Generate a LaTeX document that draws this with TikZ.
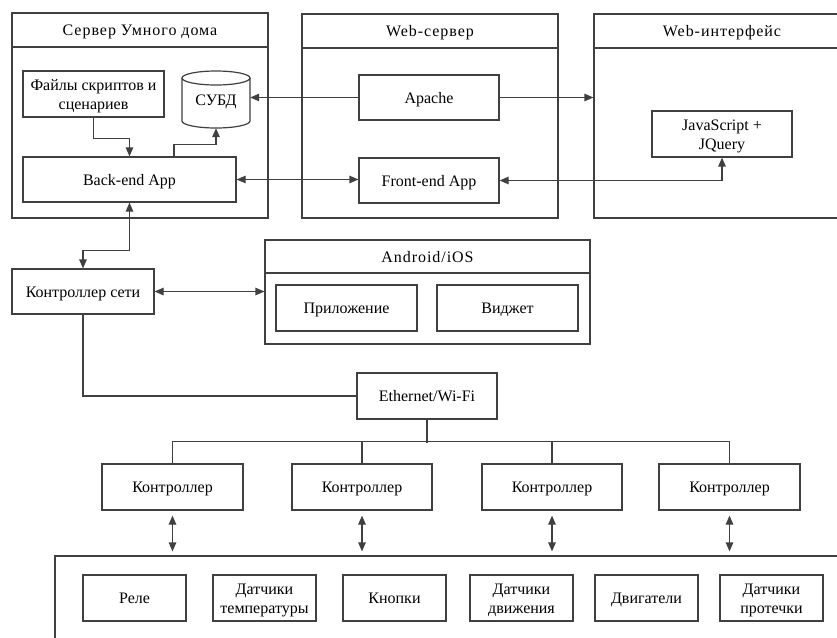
\documentclass[tikz,border=0pt]{standalone}
\usepackage{fontspec}
\setmainfont{Liberation Serif}
\newfontfamily\headfont[LetterSpace=6]{Liberation Serif}
\usetikzlibrary{arrows.meta}
\definecolor{ln}{HTML}{404040}
\tikzset{
  lbl/.style={font=\fontsize{16}{19}\selectfont, inner sep=0pt, align=center},
  one/.style={text height=11pt, text depth=0pt},
  head/.style={lbl, one, font=\fontsize{16}{19}\selectfont\headfont},
  two/.style={lbl, yshift=-2pt},
  box/.style={lbl, one, draw=ln, line width=1.2pt, rectangle},
  frame/.style={draw=ln, line width=1.2pt, rectangle, inner sep=0pt},
  link/.style={draw=ln, line width=1.2pt},
  tip/.tip={Triangle[length=9pt,width=7.5pt]},
  arr/.style={link, -tip},
  arrs/.style={link, tip-tip},
  blk/.style={box, minimum width=140pt, minimum height=46pt},
  dev/.style={box, minimum width=103pt, minimum height=46pt},
}
\begin{document}
\begin{tikzpicture}[x=1pt,y=-1pt]
\useasboundingbox (0,0) rectangle (837,637);
\clip (0,0) rectangle (837,637);

% --- containers with title rows
\node[frame, minimum width=256pt, minimum height=205pt] (srv) at (140,115.5) {};
\draw[link] (12,47) -- (268,47);
\node[head] (srvt) at (140,30) {Сервер Умного дома};

\node[frame, minimum width=256pt, minimum height=204pt] (web) at (430,116) {};
\draw[link] (302,48) -- (558,48);
\node[head] (webt) at (430,31) {Web-сервер};

\node[frame, minimum width=256pt, minimum height=204pt] (wif) at (722,116) {};
\draw[link] (594,48) -- (850,48);
\node[head] (wift) at (722,31) {Web-интерфейс};

\node[frame, minimum width=325pt, minimum height=104pt] (android) at (427.5,292) {};
\draw[link] (265,273) -- (590,273);
\node[head] (andt) at (427.5,257) {Android/iOS};

\node[frame, minimum width=845pt, minimum height=144pt] (devs) at (477.5,628) {};

% --- server internals
\node[box, minimum width=141pt, minimum height=46pt,
      label={[two]center:{Файлы скриптов и\\сценариев}}] (files) at (93.5,94) {};
\node[inner sep=0pt, minimum width=68pt, minimum height=57pt] (dbms) at (216,99.5) {};
\draw[link, fill=white] (182,78) -- (182,121) arc[start angle=180, end angle=360, x radius=34pt, y radius=7pt] -- (250,78);
\draw[link] (216,78) ellipse [x radius=34pt, y radius=7pt];
\node[lbl, one] (dbmst) at (216,100) {СУБД};
\node[box, minimum width=213pt, minimum height=45pt] (back) at (129.5,179.5) {Back-end App};

% --- web server and interface
\node[blk, minimum height=45pt] (apache) at (429,97.5) {Apache};
\node[blk, minimum height=45pt] (front) at (429,180.5) {Front-end App};
\node[blk, label={[two]center:{JavaScript +\\JQuery}}] (js) at (722,134) {};

% --- network side
\node[box, minimum width=142pt, minimum height=45pt] (netc) at (83,291.5) {Контроллер сети};
\node[box, minimum width=141pt, minimum height=46pt] (app) at (346.5,308) {Приложение};
\node[box, minimum width=141pt, minimum height=46pt] (widget) at (507.5,308) {Виджет};
\node[blk] (eth) at (427,396) {Ethernet/Wi-Fi};

\node[blk, minimum width=141pt] (c1) at (172.5,487) {Контроллер};
\node[blk] (c2) at (362,487) {Контроллер};
\node[blk] (c3) at (552,487) {Контроллер};
\node[blk, minimum width=141pt] (c4) at (729.5,487) {Контроллер};

\node[dev] (d1) at (134.5,598) {Реле};
\node[dev, label={[two]center:{Датчики\\температуры}}] (d2) at (264.5,598) {};
\node[dev] (d3) at (394.5,598) {Кнопки};
\node[dev, label={[two]center:{Датчики\\движения}}] (d4) at (521.5,598) {};
\node[dev] (d5) at (646.5,598) {Двигатели};
\node[dev, label={[two]center:{Датчики\\протечки}}] (d6) at (771.5,598) {};

% --- connectors
\draw[arr] (files.south) -- ++(0,21) -| (back.north);
\draw[arr] ([xshift=44.5pt]back.north) -- ++(0,-12) -| (dbms.south);
\draw[arr] (apache.west) -- (apache.west -| dbms.east);
\draw[arr] (apache.east) -- (apache.east -| wif.west);
\draw[arrs] (back.east) -- (back.east -| front.west);
\draw[arrs] (front.east) -| (js.south);
\draw[arrs] (back.south) -- ++(0,48) -| (netc.north);
\draw[arrs] (netc.east) -- (netc.east -| android.west);
\draw[link] (netc.south) |- (eth.west);
\draw[link] (eth.south) -- ++(0,23);
\draw[link] (c1.north) -- ++(0,-22) -| (c4.north);
\draw[link] (c2.north) -- ++(0,-22);
\draw[link] (c3.north) -- ++(0,-22);
\foreach \c in {c1,c2,c3,c4}
  \draw[arrs, shorten <=5pt, shorten >=4pt] (\c.south) -- (\c.south |- devs.north);
\end{tikzpicture}
\end{document}
